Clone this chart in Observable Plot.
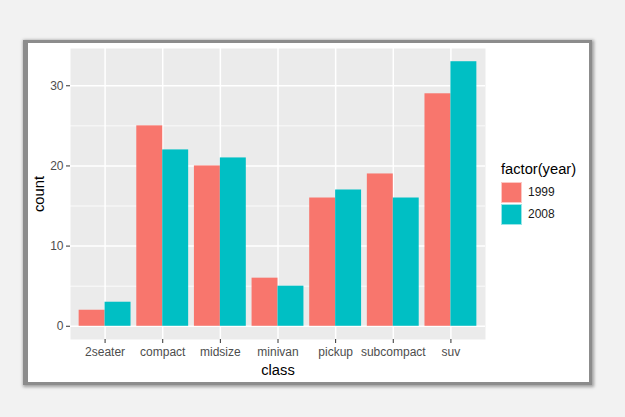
<!DOCTYPE html>
<html>
<head>
<meta charset="utf-8">
<script src="https://cdn.jsdelivr.net/npm/d3@7"></script>
<script src="https://cdn.jsdelivr.net/npm/@observablehq/plot@0.6"></script>
<style>
  html, body { margin: 0; padding: 0; background: #f2f2f2; }
  #page { position: relative; width: 625px; height: 417px; overflow: hidden; font-family: Arial, "Liberation Sans", sans-serif; }
  #frame { position: absolute; left: 23px; top: 40px; width: 561px; height: 339px; background: #fff;
           border: 3px solid #8c8c8c; border-left-width: 5px; box-shadow: 1px 1px 3px 1px rgba(0,0,0,0.35); }
  #chart { position: absolute; left: 0; top: 0; }
  #legend { position: absolute; left: 501px; top: 161px; color: #000; }
  #legend .title { font-size: 14.7px; line-height: 17px; margin-bottom: 3px; }
  #legend .row { display: flex; align-items: center; height: 22px; }
  #legend .key { width: 19px; height: 19px; border: 1px solid rgba(255,255,255,0.6); box-sizing: content-box; }
  #legend .lab { font-size: 12px; margin-left: 6px; color: #1a1a1a; }
</style>
</head>
<body>
<div id="page">
  <div id="frame"></div>
  <div id="chart"></div>
  <div id="legend"></div>
</div>
<script>
const classes = ["2seater", "compact", "midsize", "minivan", "pickup", "subcompact", "suv"];
const years = ["1999", "2008"];
const count1999 = [2, 25, 20, 6, 16, 19, 29];
const count2008 = [3, 22, 21, 5, 17, 16, 33];
const yTicks = [0, 10, 20, 30];
const yMinor = [5, 15, 25];
const yearColors = ["#F8766D", "#00BFC4"];

const W = 625, H = 417;
const mL = 70, mR = 140, mT = 48, mB = 78;
const step = (W - mL - mR) / (classes.length + 0.2);
const half = step * 0.45;

const rows = classes.flatMap((c, i) => [
  {class: c, year: years[0], count: count1999[i]},
  {class: c, year: years[1], count: count2008[i]}
]);
const rows1999 = rows.filter(d => d.year === years[0]);
const rows2008 = rows.filter(d => d.year === years[1]);
const yMax = Math.max(...count1999, ...count2008);
const pad = yMax * 0.05;

const chart = Plot.plot({
  width: W, height: H,
  marginLeft: mL, marginRight: mR, marginTop: mT, marginBottom: mB,
  style: {background: "none", fontFamily: "Arial, 'Liberation Sans', sans-serif", fontSize: "12px", overflow: "visible"},
  x: {type: "band", domain: classes, paddingInner: 0.1, paddingOuter: 0.15, align: 0.5, round: false},
  y: {domain: [-pad, yMax + pad], nice: false, zero: false},
  color: {domain: years, range: yearColors},
  marks: [
    Plot.frame({fill: "#EBEBEB", stroke: "none"}),
    Plot.ruleY(yMinor, {stroke: "#ffffff", strokeWidth: 0.8}),
    Plot.ruleY(yTicks, {stroke: "#ffffff", strokeWidth: 1.5}),
    Plot.ruleX(classes, {x: d => d, stroke: "#ffffff", strokeWidth: 1.5}),
    Plot.barY(rows1999, {x: "class", y: "count", fill: "year", insetRight: half}),
    Plot.barY(rows2008, {x: "class", y: "count", fill: "year", insetLeft: half}),
    Plot.axisY(yTicks, {tickSize: 4, tickPadding: 3, stroke: "#333333", fill: "#4D4D4D", fontSize: 12, label: null}),
    Plot.axisY([], {label: "count", labelArrow: "none", labelAnchor: "center", labelOffset: 37, fill: "#000", fontSize: 14.7, tickSize: 0}),
    Plot.axisX({tickSize: 4, tickPadding: 4, stroke: "#333333", fill: "#4D4D4D", fontSize: 12, label: null}),
    Plot.axisX([], {label: "class", labelArrow: "none", labelAnchor: "center", labelOffset: 35, fill: "#000", fontSize: 14.7, tickSize: 0})
  ]
});
document.getElementById("chart").appendChild(chart);

const legend = document.getElementById("legend");
const t = document.createElement("div");
t.className = "title";
t.textContent = "factor(year)";
legend.appendChild(t);
years.forEach((y, i) => {
  const r = document.createElement("div");
  r.className = "row";
  const k = document.createElement("div");
  k.className = "key";
  k.style.background = yearColors[i];
  const l = document.createElement("div");
  l.className = "lab";
  l.textContent = y;
  r.appendChild(k); r.appendChild(l);
  legend.appendChild(r);
});
</script>
</body>
</html>
